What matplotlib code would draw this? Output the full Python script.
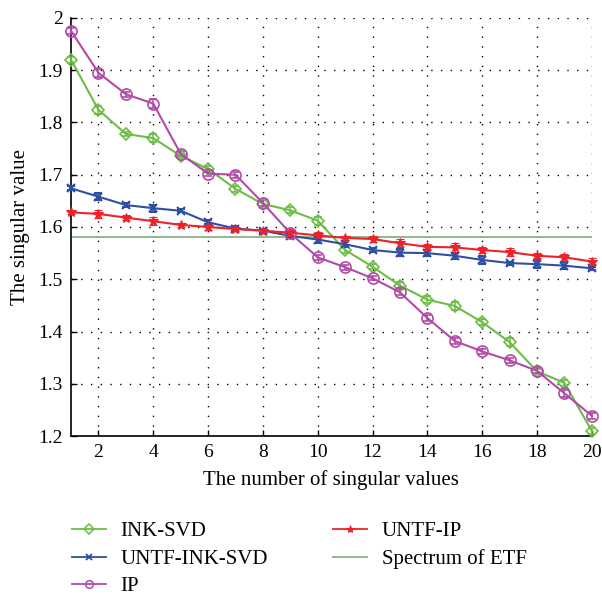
import matplotlib
matplotlib.use("Agg")
import matplotlib.pyplot as plt
from matplotlib.lines import Line2D
import numpy as np

plt.rcParams['font.family'] = ['Liberation Serif', 'DejaVu Serif']

x = list(range(1, 21))
ink_svd = [1.920, 1.824, 1.778, 1.770, 1.736, 1.711, 1.673, 1.644, 1.632, 1.612,
           1.556, 1.524, 1.488, 1.461, 1.449, 1.418, 1.380, 1.324, 1.302, 1.210]
untf_ink_svd = [1.674, 1.658, 1.642, 1.636, 1.631, 1.609, 1.597, 1.593, 1.583, 1.576,
                1.567, 1.556, 1.551, 1.550, 1.545, 1.537, 1.531, 1.529, 1.526, 1.521]
ip = [1.975, 1.895, 1.854, 1.836, 1.740, 1.702, 1.700, 1.646, 1.588, 1.542,
      1.523, 1.502, 1.475, 1.426, 1.382, 1.362, 1.345, 1.325, 1.282, 1.239]
untf_ip = [1.628, 1.625, 1.618, 1.611, 1.604, 1.600, 1.596, 1.593, 1.589, 1.584,
           1.579, 1.577, 1.569, 1.562, 1.561, 1.556, 1.552, 1.545, 1.542, 1.534]
etf_value = 1.581

ink_err = [0.006, 0.007, 0.004, 0.007, 0.004, 0.006, 0.006, 0.007, 0.006, 0.008,
           0.005, 0.005, 0.006, 0.007, 0.008, 0.006, 0.007, 0.005, 0.006, 0.006]
untf_ink_err = [0.004, 0.007, 0.003, 0.007, 0.003, 0.004, 0.004, 0.004, 0.005, 0.007,
                0.006, 0.003, 0.007, 0.006, 0.006, 0.007, 0.003, 0.007, 0.007, 0.003]
ip_err = [0.006, 0.008, 0.005, 0.008, 0.005, 0.005, 0.006, 0.006, 0.006, 0.005,
          0.005, 0.004, 0.006, 0.006, 0.006, 0.005, 0.005, 0.005, 0.007, 0.006]
untf_ip_err = [0.004, 0.008, 0.004, 0.008, 0.004, 0.006, 0.004, 0.004, 0.006, 0.007,
               0.004, 0.005, 0.008, 0.006, 0.008, 0.005, 0.007, 0.005, 0.007, 0.006]

labels = ['INK-SVD', 'UNTF-INK-SVD', 'IP', 'UNTF-IP', 'Spectrum of ETF']

c_green = '#6cbd45'
c_blue = '#2e4fa3'
c_mag = '#b24aa8'
c_red = '#ee2229'
c_etf = '#86b386'

fig = plt.figure(figsize=(6.02, 5.95), dpi=100)
ax = fig.add_axes([0.118, 0.267, 0.865, 0.703])

series = [
    (ink_svd, ink_err, c_green, dict(marker='D', ms=6, mfc='none', mew=1.2)),
    (untf_ink_svd, untf_ink_err, c_blue, dict(marker='x', ms=5.5, mew=1.5)),
    (ip, ip_err, c_mag, dict(marker='o', ms=8, mfc='none', mew=1.2)),
    (untf_ip, untf_ip_err, c_red, dict(marker='*', ms=7.5, mew=0.8)),
]
for (vals, err, col, mk), lab in zip(series, labels):
    eb = ax.errorbar(x, vals, yerr=err, color=col, lw=1.5, capsize=3,
                     elinewidth=1.1, capthick=1.1, clip_on=False, zorder=3, **mk)
    for art in eb.lines[1] + eb.lines[2]:
        art.set_clip_on(False)
ax.plot([x[0], x[-1]], [etf_value, etf_value], color=c_etf, lw=1.3, zorder=2)

ax.set_xlim(1, 20)
ax.set_ylim(1.2, 2.0)
ax.set_xticks(range(2, 21, 2))
yt = np.round(np.arange(1.2, 2.001, 0.1), 1)
ax.set_yticks(yt)
ax.set_yticklabels([('%g' % v) for v in yt])
ax.tick_params(direction='in', length=4, width=1, labelsize=14, pad=6)
ax.grid(True, color='black', linestyle=(0, (1, 6)), linewidth=1.0, zorder=1)
ax.set_axisbelow(True)
for s in ['top', 'right']:
    ax.spines[s].set_visible(False)
for s in ['left', 'bottom']:
    ax.spines[s].set_linewidth(1.2)

ax.set_xlabel('The number of singular values', fontsize=15, labelpad=6)
ax.set_ylabel('The singular value', fontsize=15, labelpad=6)

handles = [
    Line2D([], [], color=c_green, lw=1.3, marker='D', ms=5, mfc='none', mew=1.1),
    Line2D([], [], color=c_blue, lw=1.3, marker='x', ms=4, mew=1.3),
    Line2D([], [], color=c_mag, lw=1.3, marker='o', ms=5.5, mfc='none', mew=1.1),
    Line2D([], [], color=c_red, lw=1.3, marker='*', ms=6, mew=0.6),
    Line2D([], [], color=c_etf, lw=1.3),
]
fig.legend(handles, labels, loc='upper left', bbox_to_anchor=(0.105, 0.137),
           ncol=2, frameon=False, fontsize=15, handlelength=1.65,
           columnspacing=3.1, labelspacing=0.38, handletextpad=0.7,
           borderaxespad=0)

fig.savefig('out.png', dpi=100)
